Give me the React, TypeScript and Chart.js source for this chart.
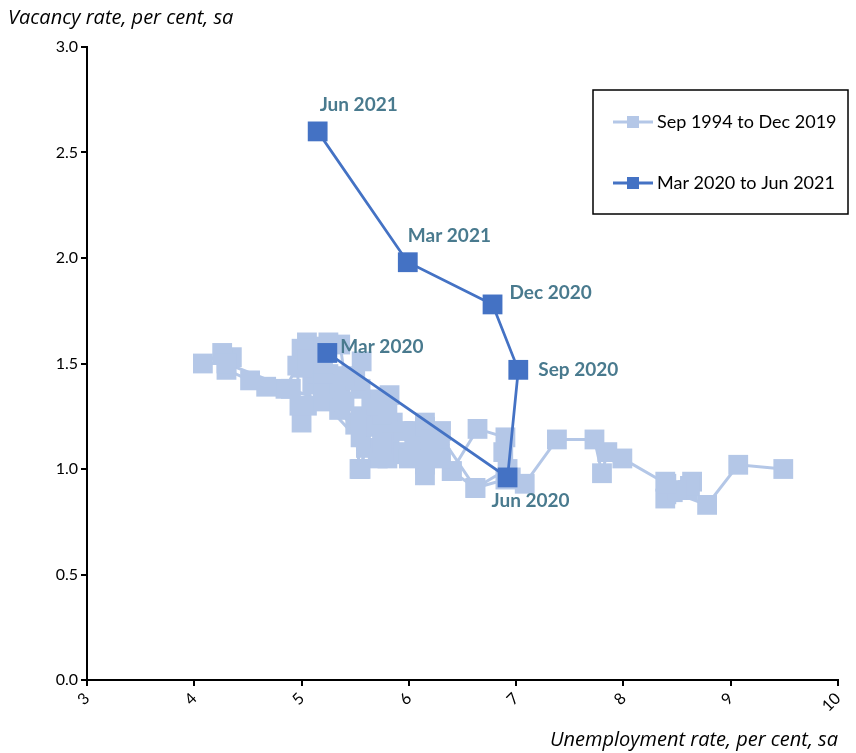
import React, { useEffect, useRef } from "react";
import { Chart, registerables } from "chart.js";

Chart.register(...registerables);

// Sep 1994 to Dec 2019 (quarterly): unemployment rate, vacancy rate
const histUnemp: number[] = [
  9.49, 9.07, 8.78, 8.46, 8.39, 8.64, 8.6, 8.39, 8.4, 8.62, 8.5, 8.4,
  7.99, 7.85, 7.8, 7.73, 7.38, 7.08, 6.95, 6.88, 6.9, 6.64, 6.4, 6.29,
  6.15, 6.29, 6.62, 6.9, 6.92, 6.62, 6.4, 6.3, 6.15, 6.06, 6.15, 6.05,
  5.92, 5.82, 5.71, 5.68, 5.54, 5.5, 5.36, 5.1, 5.05, 5.0, 4.98, 4.96,
  4.85, 4.67, 4.52, 4.3, 4.35, 4.26, 4.08, 4.3, 4.9, 5.2, 5.6, 5.55,
  5.8, 5.55, 5.35, 5.2, 5.15, 5.1, 5.05, 5.0, 5.2, 5.15, 5.25, 5.2,
  5.35, 5.4, 5.55, 5.7, 5.75, 5.95, 6.0, 6.05, 6.2, 6.25, 6.3, 6.15,
  6.2, 5.95, 5.85, 5.75, 5.7, 5.8, 5.82, 5.65, 5.55, 5.5, 5.56, 5.4,
  5.36, 5.2, 5.0, 5.05, 5.2, 5.25,
];
const histVac: number[] = [
  1.0, 1.02, 0.83, 0.89, 0.86, 0.94, 0.9, 0.94, 0.88, 0.92, 0.9, 0.93,
  1.05, 1.08, 0.98, 1.14, 1.14, 0.93, 0.96, 1.08, 1.15, 1.19, 0.99, 1.07,
  0.97, 1.16, 0.91, 0.95, 1.0, 0.91, 0.99, 1.05, 1.02, 1.1, 1.22, 1.18,
  1.07, 1.15, 1.05, 1.23, 1.0, 1.21, 1.35, 1.4, 1.3, 1.22, 1.3, 1.49,
  1.38, 1.39, 1.42, 1.47, 1.53, 1.55, 1.5, 1.5, 1.38, 1.32, 1.1, 1.0,
  1.05, 1.15, 1.28, 1.4, 1.45, 1.55, 1.6, 1.57, 1.58, 1.5, 1.45, 1.38,
  1.4, 1.32, 1.25, 1.2, 1.12, 1.08, 1.05, 1.12, 1.08, 1.15, 1.18, 1.2,
  1.14, 1.18, 1.22, 1.26, 1.3, 1.27, 1.35, 1.33, 1.38, 1.42, 1.51, 1.44,
  1.59, 1.45, 1.48, 1.52, 1.5, 1.6,
];

// Mar 2020 to Jun 2021
const covidLabels: string[] = ["Mar 2020", "Jun 2020", "Sep 2020", "Dec 2020", "Mar 2021", "Jun 2021"];
const covidUnemp: number[] = [5.24, 6.92, 7.02, 6.78, 5.99, 5.15];
const covidVac: number[] = [1.55, 0.96, 1.47, 1.78, 1.98, 2.6];

const seriesNames: string[] = ["Sep 1994 to Dec 2019", "Mar 2020 to Jun 2021"];
const xTitle = "Unemployment rate, per cent, sa";
const yTitle = "Vacancy rate, per cent, sa";

const LIGHT = "#B4C7E7";
const DARK = "#4472C4";
const LABEL = "#497A8E";
const FONT = "Lato, 'Open Sans', sans-serif";
const TITLE_FONT = "'Open Sans', Lato, sans-serif";

// label offsets (px) relative to point centre: [dx, dy]
const labelOffsets: [number, number][] = [
  [13, -6], [-16, 23], [20, 0], [17, -12], [0, -26], [2, -27],
];

export default function App() {
  const ref = useRef<HTMLCanvasElement | null>(null);
  useEffect(() => {
    document.body.style.margin = "0";
    const canvas = ref.current!;
    const overlay = {
      id: "overlay",
      afterDatasetsDraw(chart: any) {
        const ctx = chart.ctx;
        ctx.save();
        // data labels
        const meta = chart.getDatasetMeta(1);
        ctx.font = `bold 19px ${FONT}`;
        ctx.fillStyle = LABEL;
        ctx.textBaseline = "middle";
        ctx.textAlign = "left";
        meta.data.forEach((pt: any, i: number) => {
          const [dx, dy] = labelOffsets[i];
          ctx.fillText(covidLabels[i], pt.x + dx, pt.y + dy);
        });
        // legend
        const bx = 593, by = 90, bw = 255, bh = 124;
        ctx.fillStyle = "#fff";
        ctx.fillRect(bx, by, bw, bh);
        ctx.strokeStyle = "#000";
        ctx.lineWidth = 1.5;
        ctx.strokeRect(bx, by, bw, bh);
        const rows = [
          { y: by + 32, color: LIGHT, text: seriesNames[0] },
          { y: by + 93, color: DARK, text: seriesNames[1] },
        ];
        rows.forEach((r) => {
          ctx.strokeStyle = r.color;
          ctx.lineWidth = 3;
          ctx.beginPath();
          ctx.moveTo(bx + 20, r.y);
          ctx.lineTo(bx + 60, r.y);
          ctx.stroke();
          ctx.fillStyle = r.color;
          ctx.fillRect(bx + 34, r.y - 6, 12, 12);
          ctx.fillStyle = "#000";
          ctx.font = `18px ${FONT}`;
          ctx.textAlign = "left";
          ctx.textBaseline = "middle";
          ctx.fillText(r.text, bx + 64, r.y);
        });
        // axis titles
        ctx.font = `italic 20px ${TITLE_FONT}`;
        ctx.fillStyle = "#000";
        ctx.textAlign = "left";
        ctx.fillText(yTitle, 8, 18);
        ctx.textAlign = "right";
        ctx.fillText(xTitle, chart.chartArea.right, 740);
        ctx.restore();
      },
    };
    const chart = new Chart(canvas, {
      type: "scatter",
      data: {
        datasets: [
          {
            label: seriesNames[0],
            data: histUnemp.map((x, i) => ({ x, y: histVac[i] })),
            showLine: true,
            borderColor: LIGHT,
            backgroundColor: LIGHT,
            borderWidth: 3,
            pointStyle: "rect",
            pointRadius: 14,
            pointBorderWidth: 0,
            order: 2,
          },
          {
            label: seriesNames[1],
            data: covidUnemp.map((x, i) => ({ x, y: covidVac[i] })),
            showLine: true,
            borderColor: DARK,
            backgroundColor: DARK,
            borderWidth: 2.75,
            pointStyle: "rect",
            pointRadius: 14,
            pointBorderWidth: 0,
            order: 1,
          },
        ],
      },
      options: {
        animation: false,
        responsive: false,
        layout: { padding: { top: 47, right: 18, left: 0, bottom: 0 } },
        plugins: { legend: { display: false }, tooltip: { enabled: false } },
        scales: {
          x: {
            type: "linear",
            min: 3,
            max: 10,
            border: { display: true, color: "#000", width: 2 },
            grid: { drawOnChartArea: false, drawTicks: true, tickLength: 6, color: "#000", lineWidth: 2 },
            ticks: {
              stepSize: 1,
              minRotation: 45,
              maxRotation: 45,
              color: "#000",
              font: { size: 16, family: FONT },
            },
            afterFit: (s: any) => { s.height = 73; },
          },
          y: {
            min: 0,
            max: 3,
            border: { display: true, color: "#000", width: 2 },
            grid: { drawOnChartArea: false, drawTicks: true, tickLength: 6, color: "#000", lineWidth: 2 },
            ticks: {
              stepSize: 0.5,
              color: "#000",
              font: { size: 16, family: FONT },
              callback: (v: any) => Number(v).toFixed(1),
            },
            afterFit: (s: any) => { s.width = 87; },
          },
        },
      },
      plugins: [overlay],
    });
    return () => chart.destroy();
  }, []);
  return (
    <div style={{ width: 856, height: 753, background: "#fff" }}>
      <canvas ref={ref} width={856} height={753} style={{ display: "block" }} />
    </div>
  );
}
